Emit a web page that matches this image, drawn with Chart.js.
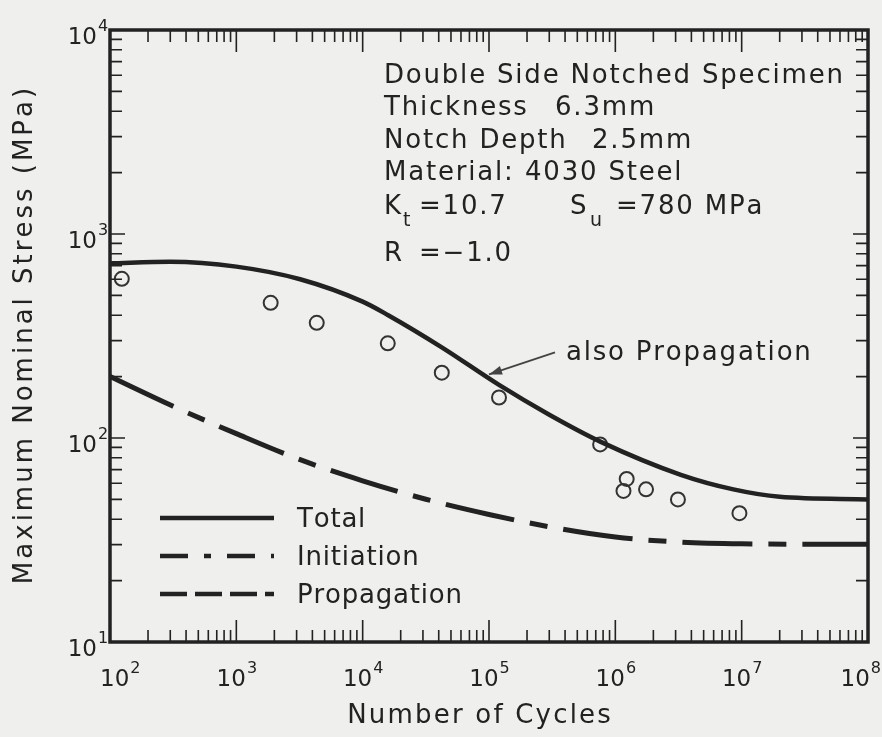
<!DOCTYPE html>
<html lang="en">
<head>
    <meta charset="UTF-8">
    <title>Double Side Notched Specimen - S-N</title>
    <script src="https://cdn.jsdelivr.net/npm/chart.js"></script>
    <style>
        body {
            margin: 0;
            padding: 0;
            background: #efefed;
        }
        canvas {
            display: block;
        }
    </style>
</head>
<body>
    <canvas id="snChart" width="882" height="737"></canvas>

    <script>
        // test points (circles)
        const testCycles = [124, 1870, 4330, 15800, 42300, 120000, 758000, 1230000, 1160000, 1750000, 3130000, 9600000];
        const testStress = [603, 460, 367, 291, 209, 158, 93, 63, 55, 56, 50, 42.8];

        // total life curve (also propagation)
        const totalCycles = [100, 300, 1000, 3200, 10000, 15800, 42000, 120000, 300000, 760000, 3300000, 8600000, 20000000, 100000000];
        const totalStress = [718, 731, 692, 600, 466, 401, 279, 182, 130, 96, 66, 56, 51.5, 50];

        // initiation curve
        const initCycles = [100, 316, 1000, 3160, 10000, 31600, 100000, 316000, 1000000, 3160000, 10000000, 100000000];
        const initStress = [200, 143, 105, 78.5, 61.7, 50.1, 42.2, 36.5, 32.7, 30.9, 30.3, 30.1];

        const seriesNames = ['Total', 'Initiation', 'Propagation'];
        const xDecades = [2, 3, 4, 5, 6, 7, 8];
        const yDecades = [1, 2, 3, 4];

        const infoLines = [
            [['Double Side Notched Specimen', 384]],
            [['Thickness', 384], ['6.3mm', 555]],
            [['Notch Depth', 384], ['2.5mm', 592]],
            [['Material:', 384], ['4030 Steel', 525]]
        ];

        const ink = '#222222';
        const fontFam = '"DejaVu Sans", Verdana, sans-serif';

        function pairs(xs, ys) {
            return xs.map((x, i) => ({ x: x, y: ys[i] }));
        }

        // draws text letter by letter with extra spacing, like the old lettering
        function spaced(ctx, text, x, y, ls, align) {
            let w = 0;
            for (const ch of text) w += ctx.measureText(ch).width + ls;
            w -= ls;
            let sx = x;
            if (align === 'center') sx = x - w / 2;
            if (align === 'right') sx = x - w;
            ctx.textAlign = 'left';
            for (const ch of text) {
                ctx.fillText(ch, sx, y);
                sx += ctx.measureText(ch).width + ls;
            }
            return w;
        }

        function power(ctx, exp, x, y, align, width) {
            ctx.font = '23px ' + fontFam;
            const w10 = ctx.measureText('10').width;
            ctx.font = '16px ' + fontFam;
            const wSup = ctx.measureText(String(exp)).width;
            let sx = x;
            if (align === 'center') {
                sx = x - (w10 + wSup) / 2;
                sx = Math.max(100, Math.min(sx, width - 2 - w10 - wSup));
            }
            if (align === 'right') sx = x - w10;
            ctx.font = '23px ' + fontFam;
            ctx.fillText('10', sx, y);
            ctx.font = '16px ' + fontFam;
            ctx.fillText(String(exp), sx + w10 + 1, y - 13);
        }

        const paperPlugin = {
            id: 'paper',
            beforeDraw(chart) {
                const ctx = chart.ctx;
                ctx.save();
                ctx.fillStyle = '#efefed';
                ctx.fillRect(0, 0, chart.width, chart.height);
                ctx.restore();
            },
            afterDraw(chart) {
                const ctx = chart.ctx;
                const a = chart.chartArea;
                const xs = chart.scales.x;
                const ys = chart.scales.y;
                ctx.save();
                ctx.strokeStyle = ink;
                ctx.fillStyle = ink;
                ctx.textBaseline = 'alphabetic';
                ctx.textAlign = 'left';

                // frame
                ctx.lineWidth = 3.5;
                ctx.strokeRect(a.left, a.top, a.right - a.left, a.bottom - a.top);

                // inward ticks
                ctx.lineWidth = 1.6;
                for (let d = 2; d < 8; d++) {
                    for (let m = 1; m <= 9; m++) {
                        const px = xs.getPixelForValue(m * Math.pow(10, d));
                        const len = m === 1 ? 22 : 12;
                        ctx.beginPath();
                        ctx.moveTo(px, a.bottom); ctx.lineTo(px, a.bottom - len);
                        ctx.moveTo(px, a.top); ctx.lineTo(px, a.top + len);
                        ctx.stroke();
                    }
                }
                for (let d = 1; d < 4; d++) {
                    for (let m = 1; m <= 9; m++) {
                        const py = ys.getPixelForValue(m * Math.pow(10, d));
                        const len = m === 1 ? 15 : 12;
                        ctx.beginPath();
                        ctx.moveTo(a.left, py); ctx.lineTo(a.left + len, py);
                        ctx.moveTo(a.right, py); ctx.lineTo(a.right - len, py);
                        ctx.stroke();
                    }
                }

                // tick labels
                xDecades.forEach(e => {
                    power(ctx, e, xs.getPixelForValue(Math.pow(10, e)), 686, 'center', chart.width);
                });
                yDecades.forEach(e => {
                    power(ctx, e, a.left - 13, ys.getPixelForValue(Math.pow(10, e)) + 14, 'right', chart.width);
                });

                // axis titles
                ctx.font = '26px ' + fontFam;
                spaced(ctx, 'Number of Cycles', (a.left + a.right) / 2 - 10, 723, 2.2, 'center');
                ctx.save();
                ctx.translate(22, (a.top + a.bottom) / 2);
                ctx.rotate(-Math.PI / 2);
                ctx.font = '26px ' + fontFam;
                spaced(ctx, 'Maximum Nominal Stress (MPa)', 0, 10, 3, 'center');
                ctx.restore();

                // specimen info block
                ctx.font = '26px ' + fontFam;
                const bases = [83, 115, 148, 180];
                infoLines.forEach((segs, i) => {
                    segs.forEach(s => spaced(ctx, s[0], s[1], bases[i], 1.8, 'left'));
                });
                spaced(ctx, 'K', 384, 214, 1.8, 'left');
                spaced(ctx, '=10.7', 419, 214, 1.8, 'left');
                spaced(ctx, 'S', 570, 214, 1.8, 'left');
                spaced(ctx, '=780 MPa', 616, 214, 1.8, 'left');
                spaced(ctx, 'R', 384, 261, 1.8, 'left');
                spaced(ctx, '=\u22121.0', 419, 261, 1.8, 'left');
                ctx.font = '19px ' + fontFam;
                ctx.fillText('t', 403, 226);
                ctx.fillText('u', 590, 226);

                // "also Propagation" note with arrow
                const tipX = xs.getPixelForValue(100000);
                const tipY = ys.getPixelForValue(205);
                ctx.font = '26px ' + fontFam;
                spaced(ctx, 'also Propagation', 566, 360, 1.8, 'left');
                ctx.lineWidth = 1.8;
                ctx.strokeStyle = '#444';
                ctx.fillStyle = '#444';
                ctx.beginPath();
                ctx.moveTo(tipX + 66, tipY - 22);
                ctx.lineTo(tipX, tipY);
                ctx.stroke();
                const ang = Math.atan2(-22, 66);
                ctx.beginPath();
                ctx.moveTo(tipX, tipY);
                ctx.lineTo(tipX + 13 * Math.cos(ang) - 4.5 * Math.sin(ang), tipY + 13 * Math.sin(ang) + 4.5 * Math.cos(ang));
                ctx.lineTo(tipX + 13 * Math.cos(ang) + 4.5 * Math.sin(ang), tipY + 13 * Math.sin(ang) - 4.5 * Math.cos(ang));
                ctx.closePath();
                ctx.fill();

                // legend inside plot
                const legendDash = { Total: [], Initiation: [28, 16, 7, 16], Propagation: [27, 8] };
                ctx.strokeStyle = ink;
                ctx.fillStyle = ink;
                ctx.font = '26px ' + fontFam;
                seriesNames.forEach((name, i) => {
                    const base = 527 + i * 38;
                    ctx.lineWidth = 4.5;
                    ctx.setLineDash(legendDash[name]);
                    ctx.beginPath();
                    ctx.moveTo(160, base - 9);
                    ctx.lineTo(274, base - 9);
                    ctx.stroke();
                    ctx.setLineDash([]);
                    spaced(ctx, name, 297, base, 0.8, 'left');
                });
                ctx.restore();
            }
        };

        const ctx = document.getElementById('snChart').getContext('2d');
        new Chart(ctx, {
            type: 'line',
            data: {
                datasets: [{
                    label: 'Total',
                    data: pairs(totalCycles, totalStress),
                    borderColor: ink,
                    borderWidth: 4.5,
                    pointRadius: 0,
                    cubicInterpolationMode: 'monotone',
                    fill: false
                }, {
                    label: 'Initiation',
                    data: pairs(initCycles, initStress),
                    borderColor: ink,
                    borderWidth: 5,
                    borderDash: [70, 16, 18, 16],
                    pointRadius: 0,
                    cubicInterpolationMode: 'monotone',
                    fill: false
                }, {
                    label: 'Propagation',
                    data: [],
                    borderColor: ink,
                    borderWidth: 4,
                    borderDash: [27, 8],
                    pointRadius: 0
                }, {
                    label: 'Test data',
                    data: pairs(testCycles, testStress),
                    showLine: false,
                    pointRadius: 7,
                    pointBorderWidth: 2,
                    pointBackgroundColor: 'rgba(0,0,0,0)',
                    pointBorderColor: '#333'
                }]
            },
            options: {
                responsive: false,
                animation: false,
                devicePixelRatio: 1,
                layout: { padding: { left: 110, right: 14, top: 30, bottom: 95 } },
                scales: {
                    x: { type: 'logarithmic', min: 100, max: 100000000, display: false },
                    y: { type: 'logarithmic', min: 10, max: 10000, display: false }
                },
                plugins: {
                    legend: { display: false },
                    tooltip: { enabled: false }
                }
            },
            plugins: [paperPlugin]
        });
    </script>
</body>
</html>
